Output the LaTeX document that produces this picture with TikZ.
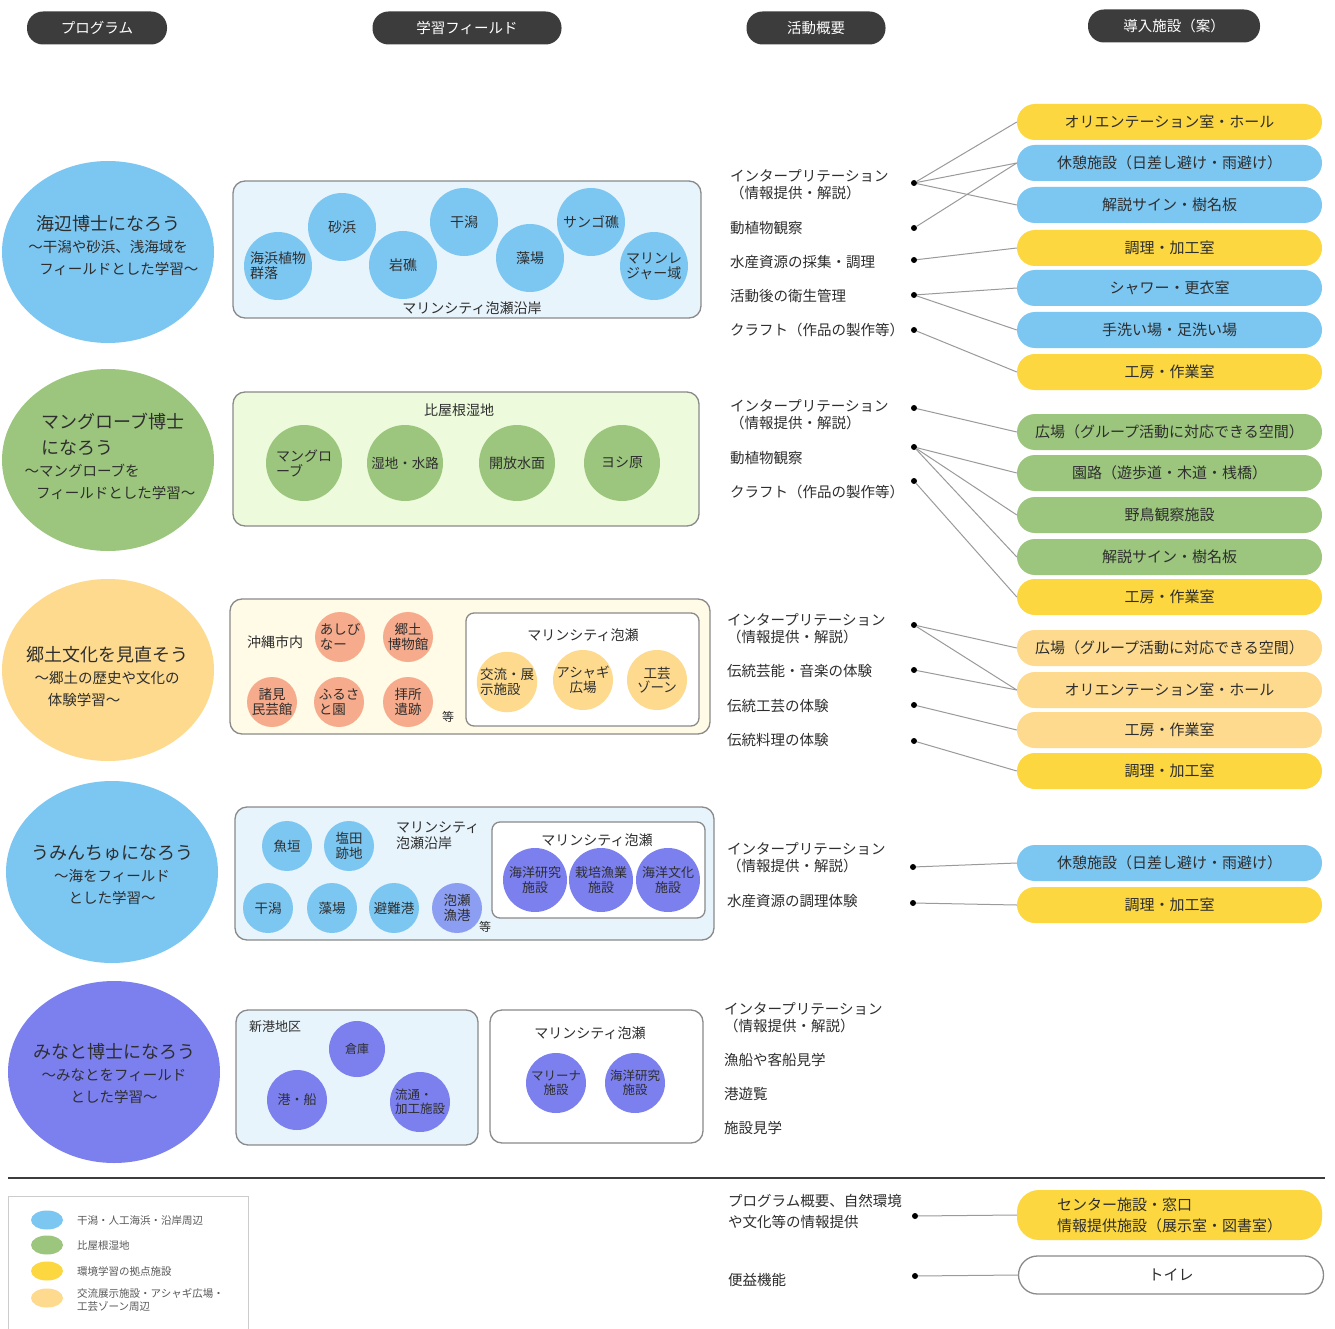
\documentclass[tikz,border=0pt]{standalone}
\usepackage{fontspec}
\setmainfont{Noto Sans CJK JP}
\usetikzlibrary{shapes.geometric}
\definecolor{tc}{HTML}{2E2E2E}
\definecolor{hdrc}{HTML}{3C3C3C}
\definecolor{cblue}{HTML}{7CC6F2}
\definecolor{cgreen}{HTML}{9CC67E}
\definecolor{corange}{HTML}{FDDA8E}
\definecolor{cpurple}{HTML}{7C80EE}
\definecolor{cyellow}{HTML}{FCD73F}
\definecolor{csalmon}{HTML}{F5AB8C}
\definecolor{cperi}{HTML}{8C9EF2}
\definecolor{bblue}{HTML}{E8F4FC}
\definecolor{bgreen}{HTML}{EDFBDC}
\definecolor{byellow}{HTML}{FFFBE6}
\definecolor{bdc}{HTML}{8A8A8A}
\definecolor{lnc}{HTML}{9A9A9A}
\begin{document}
\begin{tikzpicture}[x=1pt,y=-1pt,
  txt/.style={text=tc, inner sep=0pt, align=left, font=\fontsize{14.5}{17}\selectfont},
  hdr/.style={rectangle, rounded corners=16pt, fill=hdrc, text=white, minimum height=33pt, inner sep=0pt, font=\fontsize{14.5}{16}\selectfont},
  progel/.style={ellipse, minimum width=212pt, minimum height=182pt, inner sep=0pt},
  progtx/.style={inner sep=0pt, text=tc, align=center, font=\fontsize{14.5}{22}\selectfont},
  fbox/.style={rectangle, rounded corners=12pt, draw=bdc, line width=1.3pt, inner sep=0pt},
  ibox/.style={rectangle, rounded corners=8pt, draw=bdc, line width=1.3pt, fill=white, inner sep=0pt},
  fc/.style={circle, inner sep=0pt, align=center, text=tc, font=\fontsize{14}{15}\selectfont},
  pill/.style={rectangle, rounded corners=18pt, minimum width=305pt, minimum height=36pt, inner sep=0pt, text=tc, font=\fontsize{15}{17}\selectfont},
  dotn/.style={circle, fill=black, minimum size=6pt, inner sep=0pt},
  conn/.style={draw=lnc, line width=1pt},
  lgel/.style={ellipse, minimum width=32pt, minimum height=19pt, inner sep=0pt},
  lgtx/.style={text=tc!80, inner sep=0pt, align=left, anchor=west, font=\fontsize{10.5}{12.5}\selectfont}
]
\useasboundingbox[fill=white] (0,0) rectangle (1335,1329);

% headers
\node[hdr, minimum width=140pt] (h1) at (97,28) {プログラム};
\node[hdr, minimum width=189pt] (h2) at (467,28) {学習フィールド};
\node[hdr, minimum width=139pt] (h3) at (816,28) {活動概要};
\node[hdr, minimum width=172pt] (h4) at (1174,26) {導入施設（案）};

% program ellipses
\node[progel, fill=cblue] (p1) at (108,252) {};
\node[progtx] (pt1) at (108,246) {{\fontsize{18}{22}\selectfont 海辺博士になろう}\\～干潟や砂浜、浅海域を\\\hspace{1.5em}フィールドとした学習～};
\node[progel, fill=cgreen] (p2) at (108,460) {};
\node[progtx] (pt2) at (110,459) {\begin{tabular}{@{}l@{}}\hspace{1.2em}{\fontsize{18}{22}\selectfont マングローブ博士}\\[4pt]\hspace{1.2em}{\fontsize{18}{22}\selectfont になろう}\\～マングローブを\\\hspace{0.8em}フィールドとした学習～\end{tabular}};
\node[progel, fill=corange] (p3) at (108,670) {};
\node[progtx] (pt3) at (107,679) {\begin{tabular}{@{}l@{}}{\fontsize{18}{22}\selectfont 郷土文化を見直そう}\\\hspace{0.6em}～郷土の歴史や文化の\\\hspace{1.5em}体験学習～\end{tabular}};
\node[progel, fill=cblue] (p4) at (112,872) {};
\node[progtx] (pt4) at (112,875) {{\fontsize{18}{22}\selectfont うみんちゅになろう}\\～海をフィールド\\とした学習～};
\node[progel, fill=cpurple] (p5) at (114,1072) {};
\node[progtx] (pt5) at (114,1074) {{\fontsize{18}{22}\selectfont みなと博士になろう}\\～みなとをフィールド\\とした学習～};

% field box 1
\node[fbox, fill=bblue, minimum width=468pt, minimum height=137pt] (fb1) at (467,249.5) {};
\node[fc, fill=cblue, minimum size=68pt, align=left] (c11) at (278,266) {海浜植物\\群落};
\node[fc, fill=cblue, minimum size=68pt] (c12) at (342,227) {砂浜};
\node[fc, fill=cblue, minimum size=68pt] (c13) at (403,265) {岩礁};
\node[fc, fill=cblue, minimum size=68pt] (c14) at (464,222) {干潟};
\node[fc, fill=cblue, minimum size=68pt] (c15) at (530,258) {藻場};
\node[fc, fill=cblue, minimum size=68pt] (c16) at (591,222) {サンゴ礁};
\node[fc, fill=cblue, minimum size=68pt, align=left] (c17) at (654,266) {マリンレ\\ジャー域};
\node[txt, font=\fontsize{14}{16}\selectfont] (fl1) at (472,308) {マリンシティ泡瀬沿岸};

% field box 2
\node[fbox, fill=bgreen, minimum width=466pt, minimum height=134pt] (fb2) at (466,459) {};
\node[txt, font=\fontsize{14}{16}\selectfont] (fl2) at (459,410) {比屋根湿地};
\node[fc, fill=cgreen, minimum size=76pt, align=left] (c21) at (304,463) {マングロ\\ーブ};
\node[fc, fill=cgreen, minimum size=76pt, font=\fontsize{13.5}{15}\selectfont] (c22) at (405,463) {湿地・水路};
\node[fc, fill=cgreen, minimum size=76pt] (c23) at (517,463) {開放水面};
\node[fc, fill=cgreen, minimum size=76pt] (c24) at (622,463) {ヨシ原};

% field box 3
\node[fbox, fill=byellow, minimum width=480pt, minimum height=135pt] (fb3) at (470,666.5) {};
\node[txt, font=\fontsize{14}{16}\selectfont] (fl3) at (275,642) {沖縄市内};
\node[fc, fill=csalmon, minimum size=50pt, align=left, font=\fontsize{13.5}{14.5}\selectfont] (c31) at (340,637) {あしび\\なー};
\node[fc, fill=csalmon, minimum size=50pt, font=\fontsize{13.5}{14.5}\selectfont] (c32) at (408,637) {郷土\\博物館};
\node[fc, fill=csalmon, minimum size=50pt, font=\fontsize{13.5}{14.5}\selectfont] (c33) at (272,702) {諸見\\民芸館};
\node[fc, fill=csalmon, minimum size=50pt, align=left, font=\fontsize{13.5}{14.5}\selectfont] (c34) at (339,702) {ふるさ\\と園};
\node[fc, fill=csalmon, minimum size=50pt, font=\fontsize{13.5}{14.5}\selectfont] (c35) at (408,702) {拝所\\遺跡};
\node[txt, font=\fontsize{12}{14}\selectfont] (e3) at (448,717) {等};
\node[ibox, minimum width=233pt, minimum height=113pt] (ib3) at (582.5,669.5) {};
\node[txt, font=\fontsize{14}{16}\selectfont] (il3) at (583,635) {マリンシティ泡瀬};
\node[fc, fill=corange, minimum size=60pt, align=left, font=\fontsize{13.5}{14.5}\selectfont] (c36) at (507,682) {交流・展\\示施設};
\node[fc, fill=corange, minimum size=60pt, font=\fontsize{13.5}{14.5}\selectfont] (c37) at (583,680) {アシャギ\\広場};
\node[fc, fill=corange, minimum size=60pt, font=\fontsize{13.5}{14.5}\selectfont] (c38) at (657,680) {工芸\\ゾーン};

% field box 4
\node[fbox, fill=bblue, minimum width=479pt, minimum height=133pt] (fb4) at (474.5,873.5) {};
\node[fc, fill=cblue, minimum size=50pt, font=\fontsize{13.5}{14.5}\selectfont] (c41) at (287,846) {魚垣};
\node[fc, fill=cblue, minimum size=50pt, font=\fontsize{13.5}{14.5}\selectfont] (c42) at (349,846) {塩田\\跡地};
\node[fc, fill=cblue, minimum size=50pt, font=\fontsize{13.5}{14.5}\selectfont] (c43) at (268,908) {干潟};
\node[fc, fill=cblue, minimum size=50pt, font=\fontsize{13.5}{14.5}\selectfont] (c44) at (332,908) {藻場};
\node[fc, fill=cblue, minimum size=50pt, font=\fontsize{13.5}{14.5}\selectfont] (c45) at (394,908) {避難港};
\node[fc, fill=cperi, minimum size=50pt, font=\fontsize{13.5}{14.5}\selectfont] (c46) at (457,908) {泡瀬\\漁港};
\node[txt, anchor=north west, font=\fontsize{14}{16}\selectfont] (fl4) at (396,822) {マリンシティ\\泡瀬沿岸};
\node[txt, font=\fontsize{12}{14}\selectfont] (e4) at (485,927) {等};
\node[ibox, minimum width=213pt, minimum height=96pt] (ib4) at (598.5,870) {};
\node[txt, font=\fontsize{14}{16}\selectfont] (il4) at (597,840) {マリンシティ泡瀬};
\node[fc, fill=cpurple, minimum size=64pt, font=\fontsize{13}{14.5}\selectfont] (c47) at (535,880) {海洋研究\\施設};
\node[fc, fill=cpurple, minimum size=64pt, font=\fontsize{13}{14.5}\selectfont] (c48) at (601,880) {栽培漁業\\施設};
\node[fc, fill=cpurple, minimum size=64pt, font=\fontsize{13}{14.5}\selectfont] (c49) at (668,880) {海洋文化\\施設};

% field box 5
\node[fbox, fill=bblue, minimum width=242pt, minimum height=135pt] (fb5a) at (357,1077.5) {};
\node[txt, font=\fontsize{13}{15}\selectfont] (fl5) at (275,1027) {新港地区};
\node[fc, fill=cpurple, minimum size=56pt, font=\fontsize{12}{14}\selectfont] (c51) at (357,1049) {倉庫};
\node[fc, fill=cpurple, minimum size=60pt, font=\fontsize{13}{14}\selectfont] (c52) at (297,1100) {港・船};
\node[fc, fill=cpurple, minimum size=60pt, align=left, font=\fontsize{12.5}{14}\selectfont] (c53) at (420,1102) {流通・\\加工施設};
\node[ibox, rounded corners=12pt, minimum width=213pt, minimum height=133pt] (fb5b) at (596.5,1076.5) {};
\node[txt, font=\fontsize{14}{16}\selectfont] (il5) at (590,1033) {マリンシティ泡瀬};
\node[fc, fill=cpurple, minimum size=60pt, font=\fontsize{12.5}{14}\selectfont] (c54) at (556,1083) {マリーナ\\施設};
\node[fc, fill=cpurple, minimum size=60pt, font=\fontsize{12.5}{14}\selectfont] (c55) at (635,1083) {海洋研究\\施設};

% activities
\node[txt, anchor=west] (a11) at (730,184.5) {インタープリテーション\\（情報提供・解説）};
\node[txt, anchor=west] (a12) at (730,228) {動植物観察};
\node[txt, anchor=west] (a13) at (730,262) {水産資源の採集・調理};
\node[txt, anchor=west] (a14) at (730,296) {活動後の衛生管理};
\node[txt, anchor=west] (a15) at (730,330) {クラフト（作品の製作等）};

\node[txt, anchor=west] (a21) at (730,414.5) {インタープリテーション\\（情報提供・解説）};
\node[txt, anchor=west] (a22) at (730,458) {動植物観察};
\node[txt, anchor=west] (a23) at (730,492) {クラフト（作品の製作等）};

\node[txt, anchor=west] (a31) at (727,628.5) {インタープリテーション\\（情報提供・解説）};
\node[txt, anchor=west] (a32) at (727,671) {伝統芸能・音楽の体験};
\node[txt, anchor=west] (a33) at (727,706) {伝統工芸の体験};
\node[txt, anchor=west] (a34) at (727,740) {伝統料理の体験};

\node[txt, anchor=west] (a41) at (727,857.5) {インタープリテーション\\（情報提供・解説）};
\node[txt, anchor=west] (a42) at (727,901) {水産資源の調理体験};

\node[txt, anchor=west] (a51) at (724,1017.5) {インタープリテーション\\（情報提供・解説）};
\node[txt, anchor=west] (a52) at (724,1060) {漁船や客船見学};
\node[txt, anchor=west] (a53) at (724,1094) {港遊覧};
\node[txt, anchor=west] (a54) at (724,1128) {施設見学};

\node[txt, anchor=west, font=\fontsize{14.5}{21}\selectfont] (a61) at (728,1211.5) {プログラム概要、自然環境\\や文化等の情報提供};
\node[txt, anchor=west] (a62) at (728,1280) {便益機能};

% dots
\node[dotn] (d11) at (914,183) {};
\node[dotn] (d12) at (914,228) {};
\node[dotn] (d13) at (914,260) {};
\node[dotn] (d14) at (914,295) {};
\node[dotn] (d15) at (914,330) {};
\node[dotn] (d21) at (914,408) {};
\node[dotn] (d22) at (914,447) {};
\node[dotn] (d23) at (914,481) {};
\node[dotn] (d31) at (914,625) {};
\node[dotn] (d32) at (914,670) {};
\node[dotn] (d33) at (914,705) {};
\node[dotn] (d34) at (914,741) {};
\node[dotn] (d41) at (913,867) {};
\node[dotn] (d42) at (913,903) {};
\node[dotn] (d51) at (915,1216) {};
\node[dotn] (d52) at (915,1276) {};

% facilities
\node[pill, fill=cyellow] (f11) at (1169.5,122) {オリエンテーション室・ホール};
\node[pill, fill=cblue] (f12) at (1169.5,163) {休憩施設（日差し避け・雨避け）};
\node[pill, fill=cblue] (f13) at (1169.5,205) {解説サイン・樹名板};
\node[pill, fill=cyellow] (f14) at (1169.5,248) {調理・加工室};
\node[pill, fill=cblue] (f15) at (1169.5,288) {シャワー・更衣室};
\node[pill, fill=cblue] (f16) at (1169.5,330) {手洗い場・足洗い場};
\node[pill, fill=cyellow] (f17) at (1169.5,372) {工房・作業室};

\node[pill, fill=cgreen] (f21) at (1169.5,432) {広場（グループ活動に対応できる空間）};
\node[pill, fill=cgreen] (f22) at (1169.5,473) {園路（遊歩道・木道・桟橋）};
\node[pill, fill=cgreen] (f23) at (1169.5,515) {野鳥観察施設};
\node[pill, fill=cgreen] (f24) at (1169.5,557) {解説サイン・樹名板};
\node[pill, fill=cyellow] (f25) at (1169.5,597) {工房・作業室};

\node[pill, fill=corange] (f31) at (1169.5,648) {広場（グループ活動に対応できる空間）};
\node[pill, fill=corange] (f32) at (1169.5,690) {オリエンテーション室・ホール};
\node[pill, fill=corange] (f33) at (1169.5,730) {工房・作業室};
\node[pill, fill=cyellow] (f34) at (1169.5,771) {調理・加工室};

\node[pill, fill=cblue] (f41) at (1169.5,863) {休憩施設（日差し避け・雨避け）};
\node[pill, fill=cyellow] (f42) at (1169.5,905) {調理・加工室};

\node[pill, fill=cyellow, minimum height=50pt, rounded corners=22pt, align=left, font=\fontsize{15}{21}\selectfont] (f51) at (1169.5,1215) {センター施設・窓口\hspace{9em}\\情報提供施設（展示室・図書室）};
\node[pill, fill=white, draw=bdc, line width=1.3pt, minimum height=38pt, rounded corners=19pt] (f52) at (1171,1275) {トイレ};

% connectors
\draw[conn] (d11) -- (f11.west);
\draw[conn] (d11) -- (f12.west);
\draw[conn] (d11) -- (f13.west);
\draw[conn] (d12) -- (f12.west);
\draw[conn] (d13) -- (f14.west);
\draw[conn] (d14) -- (f15.west);
\draw[conn] (d14) -- (f16.west);
\draw[conn] (d15) -- (f17.west);
\draw[conn] (d21) -- (f21.west);
\draw[conn] (d22) -- (f22.west);
\draw[conn] (d22) -- (f23.west);
\draw[conn] (d22) -- (f24.west);
\draw[conn] (d23) -- (f25.west);
\draw[conn] (d31) -- (f31.west);
\draw[conn] (d31) -- (f32.west);
\draw[conn] (d32) -- (f32.west);
\draw[conn] (d33) -- (f33.west);
\draw[conn] (d34) -- (f34.west);
\draw[conn] (d41) -- (f41.west);
\draw[conn] (d42) -- (f42.west);
\draw[conn] (d51) -- (f51.west);
\draw[conn] (d52) -- (f52.west);

% separator
\draw[line width=1.5pt, color=hdrc] (8,1178) -- (1325,1178);

% legend
\node[rectangle, draw=black!20, line width=1pt, fill=white, minimum width=240pt, minimum height=150pt, inner sep=0pt] (lg) at (128,1271) {};
\node[lgel, fill=cblue] (l1) at (47,1220) {};
\node[lgel, fill=cgreen] (l2) at (47,1245) {};
\node[lgel, fill=cyellow] (l3) at (47,1271) {};
\node[lgel, fill=corange] (l4) at (47,1298) {};
\node[lgtx] (lt1) at (77,1221) {干潟・人工海浜・沿岸周辺};
\node[lgtx] (lt2) at (77,1246) {比屋根湿地};
\node[lgtx] (lt3) at (77,1271) {環境学習の拠点施設};
\node[lgtx] (lt4) at (77,1300) {交流展示施設・アシャギ広場・\\工芸ゾーン周辺};
\end{tikzpicture}
\end{document}
